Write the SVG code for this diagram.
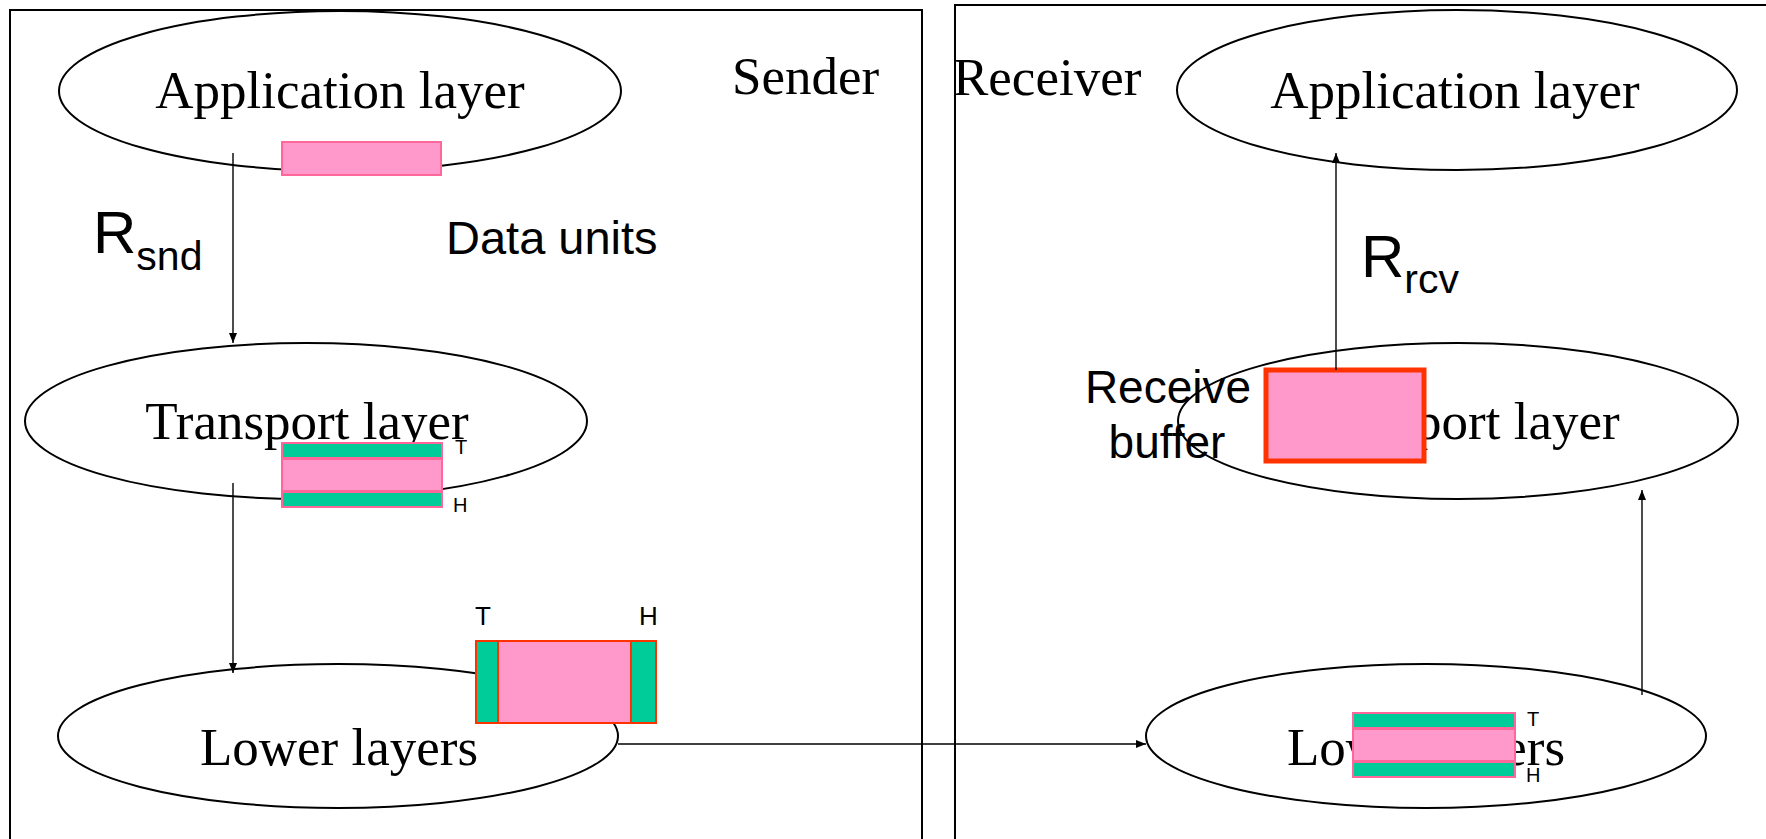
<svg xmlns="http://www.w3.org/2000/svg" width="1766" height="839" viewBox="0 0 1766 839">
  <style>
    .frame { fill: none; stroke: #000; stroke-width: 2; }
    .layer { fill: #fff; stroke: #000; stroke-width: 2; }
    .layer-text { font-family: "Liberation Serif", "Times New Roman", serif; font-size: 53px; fill: #000; text-anchor: middle; }
    .side-text { font-family: "Liberation Serif", "Times New Roman", serif; font-size: 53px; fill: #000; }
    .sans { font-family: "Liberation Sans", Arial, sans-serif; fill: #000; }
    .tag { font-family: "Liberation Sans", Arial, sans-serif; font-size: 20px; fill: #000; }
    .payload { fill: #FF99CC; stroke: #FF6699; stroke-width: 2; }
    .hdr { fill: #00CC99; stroke: #FF6699; stroke-width: 2; }
    .seg-payload { fill: #FF99CC; stroke: #FF3300; stroke-width: 2; }
    .seg-hdr { fill: #00CC99; stroke: #FF3300; stroke-width: 2; }
    .buffer { fill: #FF99CC; stroke: #FF3300; stroke-width: 5; }
    .flow { fill: none; stroke: #000; stroke-width: 1.4; marker-end: url(#arrow); }
  </style>
  <defs>
    <marker id="arrow" markerUnits="userSpaceOnUse" markerWidth="10" markerHeight="10" viewBox="0 0 10 10" refX="10" refY="5" orient="auto">
      <path d="M0,1 L10,5 L0,9 Z" fill="#000"/>
    </marker>
  </defs>

  <rect width="1766" height="839" fill="#fff"/>

  <!-- host frames -->
  <g id="sender-frame">
    <rect class="frame" x="10" y="10" width="912" height="860"/>
    <text class="side-text" x="732" y="94">Sender</text>
  </g>
  <g id="receiver-frame">
    <rect class="frame" x="955" y="5" width="860" height="870"/>
    <text class="side-text" x="953" y="95">Receiver</text>
  </g>

  <!-- sender stack -->
  <g id="snd-app">
    <ellipse class="layer" cx="340" cy="91" rx="281" ry="80"/>
    <text class="layer-text" x="340" y="108">Application layer</text>
    <rect class="payload" x="282" y="142" width="159" height="33"/>
  </g>
  <g id="snd-transport">
    <ellipse class="layer" cx="306" cy="421" rx="281" ry="78"/>
    <text class="tag" x="455" y="454">T</text>
    <text class="layer-text" x="307" y="439">Transport layer</text>
    <rect class="hdr" x="282" y="443" width="160" height="15"/>
    <rect class="payload" x="282" y="459" width="160" height="32"/>
    <rect class="hdr" x="282" y="492" width="160" height="15"/>
    <text class="tag" x="453" y="512">H</text>
  </g>
  <g id="snd-lower">
    <ellipse class="layer" cx="338" cy="736" rx="280" ry="72"/>
    <text class="layer-text" x="339" y="765">Lower layers</text>
    <rect class="seg-payload" x="476" y="641" width="180" height="82"/>
    <rect class="seg-hdr" x="476" y="641" width="22" height="82"/>
    <rect class="seg-hdr" x="631" y="641" width="25" height="82"/>
    <text class="sans" x="475" y="625" font-size="26">T</text>
    <text class="sans" x="639" y="625" font-size="26">H</text>
  </g>

  <!-- receiver stack -->
  <g id="rcv-app">
    <ellipse class="layer" cx="1457" cy="90" rx="280" ry="80"/>
    <text class="layer-text" x="1455" y="108">Application layer</text>
  </g>
  <g id="rcv-transport">
    <ellipse class="layer" cx="1458" cy="421" rx="280" ry="78"/>
    <text class="layer-text" x="1458" y="439">Transport layer</text>
    <rect class="buffer" x="1266" y="370" width="158" height="91"/>
    <text class="sans" font-size="46" text-anchor="middle" x="1168" y="403">Receive</text>
    <text class="sans" font-size="46" text-anchor="middle" x="1167" y="458">buffer</text>
  </g>
  <g id="rcv-lower">
    <ellipse class="layer" cx="1426" cy="736" rx="280" ry="72"/>
    <text class="layer-text" x="1426" y="765">Lower layers</text>
    <rect class="hdr" x="1353" y="713" width="162" height="15"/>
    <rect class="payload" x="1353" y="729" width="162" height="32"/>
    <rect class="hdr" x="1353" y="762" width="162" height="15"/>
    <text class="tag" x="1527" y="726">T</text>
    <text class="tag" x="1526" y="782">H</text>
  </g>

  <!-- rate labels -->
  <g id="rate-labels">
    <text class="sans" font-size="60" x="93" y="253">R<tspan font-size="41" dy="17">snd</tspan></text>
    <text class="sans" font-size="47" x="446" y="254">Data units</text>
    <text class="sans" font-size="60" x="1361" y="277">R<tspan font-size="41" dy="16">rcv</tspan></text>
  </g>

  <!-- connectors -->
  <g id="connectors">
    <line class="flow" x1="233" y1="153" x2="233" y2="343"/>
    <line class="flow" x1="233" y1="483" x2="233" y2="673"/>
    <line class="flow" x1="618" y1="744" x2="1146" y2="744"/>
    <line class="flow" x1="1642" y1="695" x2="1642" y2="490"/>
    <line class="flow" x1="1336" y1="370" x2="1336" y2="153"/>
  </g>
</svg>
